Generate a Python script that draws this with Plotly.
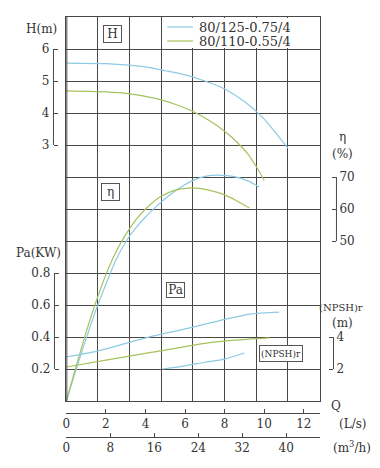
import plotly.graph_objects as go

# ---------------- data ----------------
SERIES_NAMES = ["80/125-0.75/4", "80/110-0.55/4"]

# Head H (m)
q_h_blue = [0, 2, 4, 5, 6, 7, 8, 9, 10, 10.6, 11.2]
h_blue = [5.56, 5.54, 5.44, 5.32, 5.19, 5.0, 4.75, 4.36, 3.81, 3.36, 2.9]
q_h_green = [0, 2, 3.2, 4, 4.8, 5.6, 6.35, 7.2, 8, 8.6, 9.2, 9.6, 10.0]
h_green = [4.69, 4.66, 4.6, 4.52, 4.41, 4.25, 4.06, 3.77, 3.43, 3.1, 2.7, 2.32, 1.9]

# Efficiency eta (%)
q_eta_blue = [0, 0.5, 1.0, 1.5, 2.0, 2.5, 3.0, 3.5, 4.0, 4.5, 5.0, 5.7, 6.35, 7.0, 7.7, 8.5, 9.2, 9.75]
eta_blue = [0, 10, 19.5, 28.5, 36.5, 44, 49.7, 54, 57.5, 60.5, 63.3, 66.5, 68.8, 70.2, 70.6, 70.1, 68.7, 66.9]
q_eta_green = [0, 0.5, 1.0, 1.5, 2.0, 2.5, 3.0, 3.5, 4.0, 4.75, 5.5, 6.35, 7.2, 8.0, 8.6, 9.25]
eta_green = [0, 11, 21.5, 31, 39.5, 46.5, 52, 56.5, 60, 63.8, 65.9, 66.6, 65.9, 64.4, 62.6, 60.3]

# Shaft power Pa (kW)
q_pa_blue = [0, 1.5, 3.0, 4.35, 6.35, 8.0, 9.35, 10.75]
pa_blue = [0.275, 0.31, 0.36, 0.405, 0.46, 0.51, 0.545, 0.556]
q_pa_green = [0, 2, 4.35, 7.0, 8.5, 10.25]
pa_green = [0.2125, 0.255, 0.305, 0.36, 0.38, 0.394]

# NPSHr (m)
q_npsh_blue = [4.85, 6.0, 7.0, 8.0, 9.0]
npsh_blue = [2.0, 2.2, 2.42, 2.62, 3.0]

# axis ticks
Q_TICKS = [0, 2, 4, 6, 8, 10, 12]
M3H_TICKS = [0, 8, 16, 24, 32, 40]
H_TICKS = [3, 4, 5, 6]
ETA_TICKS = [50, 60, 70]
PA_TICKS = [0.2, 0.4, 0.6, 0.8]
NPSH_TICKS = [2, 4]

# ---------------- style ----------------
W, H = 380, 468
FONT = "DejaVu Serif"
TXT = "#333333"
GRID = "#484848"
BLUE = "#8ccbe4"
GREEN = "#a6c25c"
COLORS = [BLUE, GREEN]


def px(v):
    return v / W


def py(v):
    return 1 - v / H


fig = go.Figure()

# base subplot (grid) - invisible placeholder trace so the xy subplot exists
fig.add_trace(go.Scatter(x=[None], y=[None], xaxis="x", yaxis="y",
                         showlegend=False, hoverinfo="skip"))


def add(q, v, color, yaxis, name):
    fig.add_trace(go.Scatter(
        x=q, y=v, mode="lines", xaxis="x", yaxis=yaxis, name=name,
        showlegend=False, hoverinfo="skip",
        line=dict(color=color, width=1.2, shape="spline", smoothing=0.6)))


add(q_h_blue, h_blue, BLUE, "y2", SERIES_NAMES[0])
add(q_h_green, h_green, GREEN, "y2", SERIES_NAMES[1])
add(q_eta_blue, eta_blue, BLUE, "y3", SERIES_NAMES[0])
add(q_eta_green, eta_green, GREEN, "y3", SERIES_NAMES[1])
add(q_pa_blue, pa_blue, BLUE, "y4", SERIES_NAMES[0])
add(q_pa_green, pa_green, GREEN, "y4", SERIES_NAMES[1])
add(q_npsh_blue, npsh_blue, BLUE, "y5", SERIES_NAMES[0])

# dummy traces so the secondary x axes are drawn
for xa in ("x2", "x3"):
    fig.add_trace(go.Scatter(x=[None], y=[None], xaxis=xa, yaxis="y",
                             showlegend=False, hoverinfo="skip"))

tickfont = dict(family=FONT, size=12, color=TXT)
common_free_y = dict(overlaying="y", anchor="free", showgrid=False, zeroline=False,
                     showline=False, ticks="inside", ticklen=4, tickcolor=GRID,
                     tickwidth=1, tickfont=tickfont, fixedrange=True)
common_free_x = dict(overlaying="x", anchor="free", showgrid=False, zeroline=False,
                     showline=True, linecolor=GRID, linewidth=1, ticks="inside",
                     ticklen=4, tickcolor=GRID, tickwidth=1, tickfont=tickfont,
                     side="bottom", fixedrange=True)

fig.update_layout(
    width=W, height=H, autosize=False,
    margin=dict(l=0, r=0, t=0, b=0, pad=0),
    paper_bgcolor="white", plot_bgcolor="white",
    font=dict(family=FONT, size=12, color=TXT),
    showlegend=False,
    xaxis=dict(domain=[px(63), px(319)], range=[0, 12.8], tick0=0, dtick=1.6,
               showgrid=True, gridcolor=GRID, gridwidth=1, showticklabels=False,
               ticks="", zeroline=False, showline=True, mirror=True,
               linecolor=GRID, linewidth=1, anchor="y", fixedrange=True),
    yaxis=dict(domain=[py(401), py(17)], range=[0, 12], tick0=0, dtick=1,
               showgrid=True, gridcolor=GRID, gridwidth=1, showticklabels=False,
               ticks="", zeroline=False, showline=True, mirror=True,
               linecolor=GRID, linewidth=1, anchor="x", fixedrange=True),
    xaxis2=dict(common_free_x, position=py(413), range=[0, 12.8], tickvals=Q_TICKS),
    xaxis3=dict(common_free_x, position=py(437), range=[0, 12.8 * 3.6], tickvals=M3H_TICKS),
    yaxis2=dict(common_free_y, position=px(50), side="left", range=[-5, 7],
                tickvals=H_TICKS, ticklabelstandoff=4),
    yaxis3=dict(common_free_y, position=px(336), side="right", range=[0, 120],
                tickvals=ETA_TICKS, ticklabelstandoff=2),
    yaxis4=dict(common_free_y, position=px(51), side="left", range=[0, 2.4],
                tickvals=PA_TICKS, tickformat=".1f", ticklabelstandoff=4),
    yaxis5=dict(common_free_y, position=px(333), side="right", range=[0, 24],
                tickvals=NPSH_TICKS, ticklabelstandoff=2),
)

shapes = [
    # white area behind the legend (no grid lines there)
    dict(type="rect", xref="paper", yref="paper", x0=px(160), x1=px(318),
         y0=py(48), y1=py(18), fillcolor="white", line=dict(width=0), layer="above"),
    # thicker left border
    dict(type="line", xref="x", yref="y", x0=0, x1=0, y0=0, y1=12,
         line=dict(color=GRID, width=2)),
    # axis brackets
    dict(type="line", xref="paper", yref="y2", x0=px(50), x1=px(50),
         y0=H_TICKS[0], y1=H_TICKS[-1], line=dict(color=GRID, width=1)),
    dict(type="line", xref="paper", yref="y3", x0=px(336), x1=px(336),
         y0=ETA_TICKS[0], y1=ETA_TICKS[-1], line=dict(color=GRID, width=1)),
    dict(type="line", xref="paper", yref="y4", x0=px(51), x1=px(51),
         y0=PA_TICKS[0], y1=PA_TICKS[-1], line=dict(color=GRID, width=1)),
    dict(type="line", xref="paper", yref="y5", x0=px(333), x1=px(333),
         y0=NPSH_TICKS[0], y1=NPSH_TICKS[-1], line=dict(color=GRID, width=1)),
]
# legend samples
LEGEND_ROWS = [27, 41]
for name, color, row in zip(SERIES_NAMES, COLORS, LEGEND_ROWS):
    shapes.append(dict(type="line", xref="paper", yref="paper", x0=px(165), x1=px(191),
                       y0=py(row), y1=py(row), line=dict(color=color, width=1.2),
                       layer="above"))
fig.update_layout(shapes=shapes)


def label(text, x, y, size=12, **kw):
    d = dict(text=text, xref="paper", yref="paper", x=px(x), y=py(y),
             xanchor="center", yanchor="middle", showarrow=False,
             font=dict(family=FONT, size=size, color=TXT))
    d.update(kw)
    return d


def boxed(text, x, y, w, h, size=12):
    return label(text, x, y, size=size, bordercolor="#555555", borderwidth=1,
                 borderpad=1, bgcolor="white", width=w, height=h)


annotations = [
    label("H(m)", 38, 29),
    label("Pa(KW)", 35, 253),
    label("η", 342, 137),
    label("(%)", 342, 154),
    label("(NPSH)r", 341, 307, size=10),
    label("(m)", 342, 323),
    label("Q", 336, 406),
    label("(L/s)", 353, 424),
    label("(m<sup>3</sup>/h)", 352, 447),
    boxed("H", 110, 34, 15, 14),
    boxed("η", 108, 192, 15, 14),
    boxed("Pa", 173, 290, 15, 12),
    boxed("(NPSH)r", 280, 353, 40, 13, size=9),
]
for name, row in zip(SERIES_NAMES, LEGEND_ROWS):
    annotations.append(label(name, 195, row, size=13, xanchor="left"))
fig.update_layout(annotations=annotations)

fig.write_html("out.html")
